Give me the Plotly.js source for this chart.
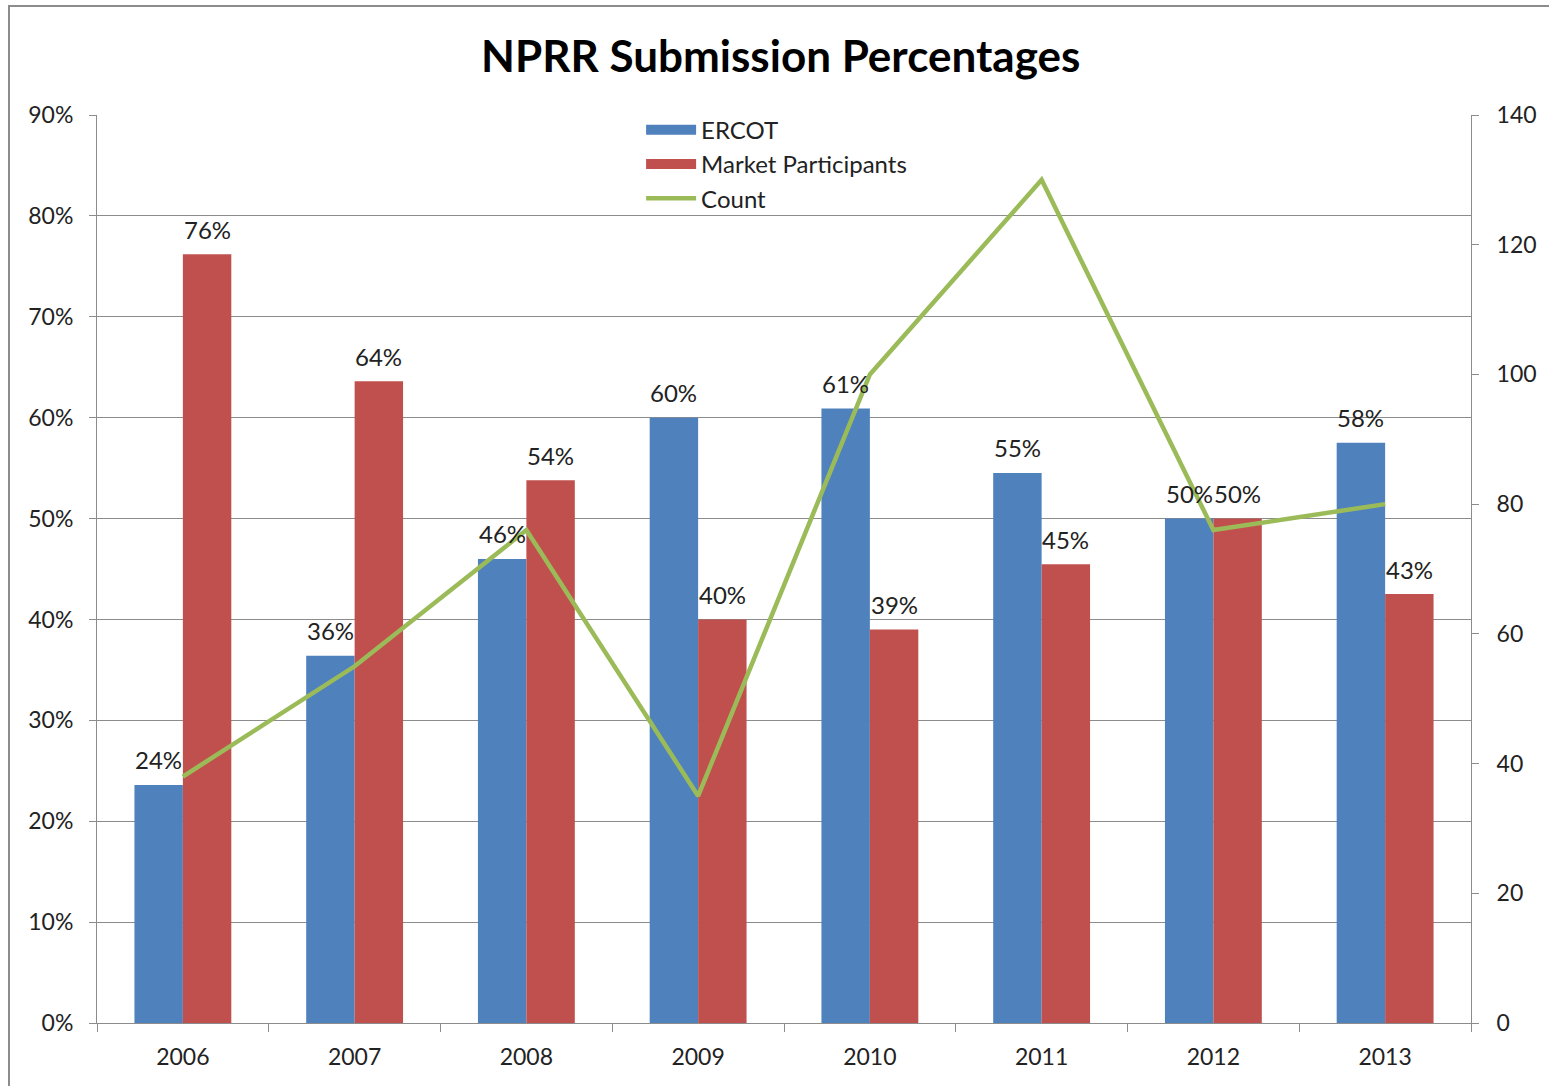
<!DOCTYPE html>
<html>
<head>
<meta charset="utf-8">
<script src="https://cdn.plot.ly/plotly-3.0.1.min.js"></script>
<style>
  html, body { margin: 0; padding: 0; background: #fff; overflow: hidden; }
  #frame { position: absolute; left: 8px; top: 5px; width: 1700px; height: 1200px; border: 2px solid #8c8c8c; box-sizing: border-box; }
  #chart { position: absolute; left: 0; top: 0; width: 1549px; height: 1086px; }
</style>
</head>
<body>
<div id="frame"></div>
<div id="chart"></div>
<script>
const years = ['2006', '2007', '2008', '2009', '2010', '2011', '2012', '2013'];
const ercot = [0.236, 0.364, 0.460, 0.600, 0.609, 0.5452, 0.500, 0.5752];
const marketParticipants = [0.762, 0.636, 0.538, 0.400, 0.390, 0.4548, 0.500, 0.4252];
const count = [38, 55, 76, 35, 100, 130, 76, 80];

const FONT = 'Lato, "Open Sans", sans-serif';
const GRID = '#8c8c8c';
const BLUE = '#4F81BD', RED = '#C0504D', GREEN = '#9BBB59';

const W = 1549, H = 1086;
const M = { l: 97, r: 78, t: 115, b: 63, pad: 0 };
const BARGAP = 0.436;

const traces = [
  { type: 'bar', name: 'ERCOT', x: years, y: ercot, marker: { color: BLUE }, showlegend: false, hoverinfo: 'x+y' },
  { type: 'bar', name: 'Market Participants', x: years, y: marketParticipants, marker: { color: RED }, showlegend: false, hoverinfo: 'x+y' },
  { type: 'scatter', mode: 'lines', name: 'ERCOT', x: [years[0]], y: [null], line: { color: BLUE, width: 14 }, legendgroup: 'a', hoverinfo: 'skip' },
  { type: 'scatter', mode: 'lines', name: 'Market Participants', x: [years[0]], y: [null], line: { color: RED, width: 14 }, legendgroup: 'b', hoverinfo: 'skip' },
  { type: 'scatter', mode: 'lines', name: 'Count', x: years, y: count, yaxis: 'y2',
    line: { color: GREEN, width: 4.5 }, legendgroup: 'c', cliponaxis: false }
];

// data labels above each bar, from the data arrays (category axis: x is the category index)
const catPx = (W - M.l - M.r) / years.length;
const barPx = catPx * (1 - BARGAP) / 2;
const annotations = [];
[[ercot, -barPx / 2], [marketParticipants, barPx / 2]].forEach(([vals, dx]) => {
  vals.forEach((v, i) => {
    annotations.push({
      x: i, y: v, xref: 'x', yref: 'y',
      text: Math.round(v * 100) + '%', showarrow: false,
      xanchor: 'center', yanchor: 'middle', xshift: dx, yshift: 25,
      font: { family: FONT, size: 24, color: '#222' }
    });
  });
});

const layout = {
  width: W, height: H,
  paper_bgcolor: 'rgba(0,0,0,0)', plot_bgcolor: 'rgba(0,0,0,0)',
  margin: M,
  font: { family: FONT, size: 23, color: '#222' },
  title: {
    text: '<b>NPRR Submission Percentages</b>',
    font: { family: FONT, size: 44, color: '#000' },
    x: 0.504, xanchor: 'center', y: 0.948, yanchor: 'middle'
  },
  barmode: 'group', bargap: BARGAP, bargroupgap: 0,
  showlegend: true,
  legend: {
    x: 0.396, xanchor: 'left', y: 1.008, yanchor: 'top',
    bgcolor: 'rgba(0,0,0,0)', font: { family: FONT, size: 24, color: '#222' },
    tracegroupgap: 14, itemwidth: 50, traceorder: 'normal'
  },
  annotations: annotations,
  xaxis: {
    type: 'category', categoryorder: 'array', categoryarray: years, range: [-0.5, years.length - 0.5],
    tickson: 'boundaries', ticks: 'outside', ticklen: 8, tickcolor: GRID, tickwidth: 1,
    showline: true, linecolor: GRID, linewidth: 1, showgrid: false,
    tickfont: { family: FONT, size: 23, color: '#222' }, ticklabelstandoff: 13
  },
  yaxis: {
    range: [0, 0.9], dtick: 0.1, tickformat: '.0%',
    showgrid: true, gridcolor: GRID, gridwidth: 1,
    zeroline: false, showline: true, linecolor: GRID, linewidth: 1,
    ticks: 'outside', ticklen: 7, tickcolor: GRID,
    tickfont: { family: FONT, size: 23, color: '#222' }, ticklabelstandoff: 11
  },
  yaxis2: {
    range: [0, 140], dtick: 20, overlaying: 'y', side: 'right',
    showgrid: false, zeroline: false, showline: true, linecolor: GRID, linewidth: 1,
    ticks: 'outside', ticklen: 7, tickcolor: GRID,
    tickfont: { family: FONT, size: 23, color: '#222' }, ticklabelstandoff: 13
  }
};

Plotly.newPlot('chart', traces, layout, { displayModeBar: false, staticPlot: true });
</script>
</body>
</html>
